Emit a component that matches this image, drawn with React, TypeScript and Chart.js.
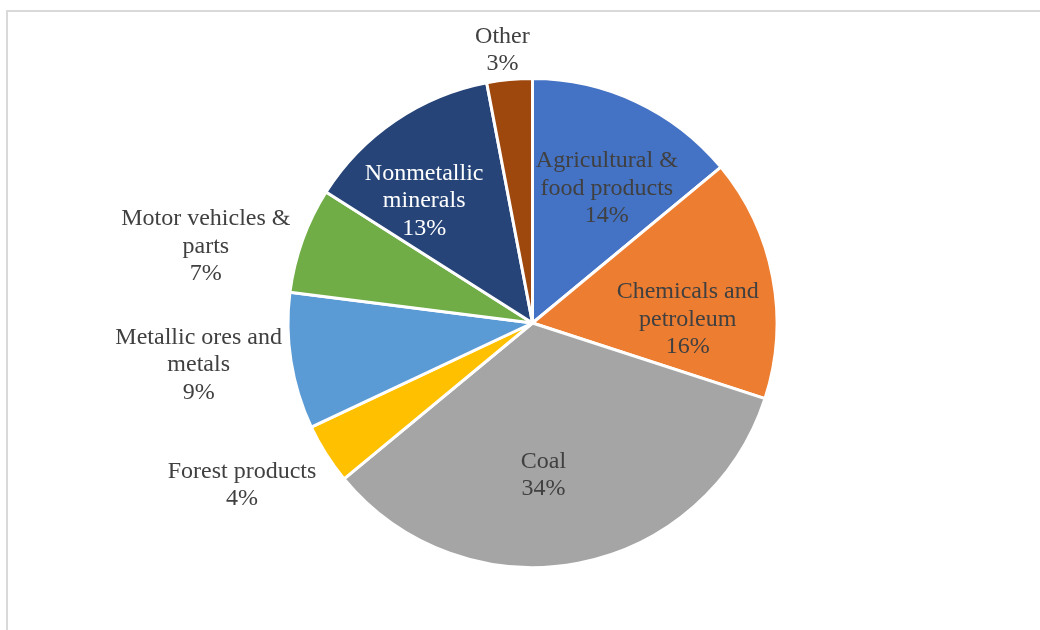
import React, { useEffect, useRef } from "react";
import { Chart, registerables } from "chart.js";

Chart.register(...registerables);

const categories = [
  "Agricultural & food products",
  "Chemicals and petroleum",
  "Coal",
  "Forest products",
  "Metallic ores and metals",
  "Motor vehicles & parts",
  "Nonmetallic minerals",
  "Other",
];
const labelLines = [
  ["Agricultural &", "food products"],
  ["Chemicals and", "petroleum"],
  ["Coal"],
  ["Forest products"],
  ["Metallic ores and", "metals"],
  ["Motor vehicles &", "parts"],
  ["Nonmetallic", "minerals"],
  ["Other"],
];
const shares = [14, 16, 34, 4, 9, 7, 13, 3];
const sliceColors = [
  "#4472C4",
  "#ED7D31",
  "#A5A5A5",
  "#FFC000",
  "#5B9BD5",
  "#70AD47",
  "#264478",
  "#9E480E",
];
const labelColors = [
  "#404040",
  "#404040",
  "#404040",
  "#404040",
  "#404040",
  "#404040",
  "#FFFFFF",
  "#404040",
];
// label placement (degrees clockwise from top, fraction of radius)
const labelAngles = [28.6, 88, 175.8, 241.1, 263.2, 283.5, 318.9, 353.75];
const labelRadii = [0.635, 0.635, 0.615, 1.357, 1.375, 1.374, 0.674, 1.13];

const FONT = '24px "Liberation Serif", "Times New Roman", serif';
const LINE_H = 27.5;
const TEXT_SHIFT = 2;

const labelPlugin = {
  id: "sliceLabels",
  afterDatasetsDraw(chart: any) {
    const meta = chart.getDatasetMeta(0);
    const ctx = chart.ctx;
    ctx.save();
    ctx.font = FONT;
    ctx.textAlign = "center";
    ctx.textBaseline = "middle";
    meta.data.forEach((arc: any, i: number) => {
      const { x, y, outerRadius } = arc.getProps(["x", "y", "outerRadius"], true);
      const a = (labelAngles[i] * Math.PI) / 180;
      const r = outerRadius * labelRadii[i];
      const px = x + r * Math.sin(a);
      const py = y - r * Math.cos(a) + TEXT_SHIFT;
      const lines = [...labelLines[i], shares[i] + "%"];
      const startY = py - ((lines.length - 1) / 2) * LINE_H;
      ctx.fillStyle = labelColors[i];
      lines.forEach((t, k) => ctx.fillText(t, px, startY + k * LINE_H));
    });
    ctx.restore();
  },
};

export default function App() {
  const ref = useRef<HTMLCanvasElement>(null);
  useEffect(() => {
    const chart = new Chart(ref.current as HTMLCanvasElement, {
      type: "pie",
      data: {
        labels: categories,
        datasets: [
          {
            data: shares,
            backgroundColor: sliceColors,
            borderColor: "#FFFFFF",
            borderWidth: 3,
          },
        ],
      },
      options: {
        responsive: false,
        animation: false,
        layout: { padding: { top: 77, bottom: 61, left: 286, right: 261 } },
        plugins: {
          legend: { display: false },
          tooltip: { enabled: false },
          title: { display: false },
        },
      },
      plugins: [labelPlugin],
    });
    return () => chart.destroy();
  }, []);
  return (
    <>
      <div
        style={{
          position: "fixed",
          left: 6,
          top: 10,
          width: 1032,
          height: 618,
          borderTop: "2px solid #D9D9D9",
          borderLeft: "2px solid #D9D9D9",
          background: "#FFFFFF",
        }}
      />
      <canvas
        ref={ref}
        width={1040}
        height={630}
        style={{ position: "fixed", left: 0, top: 0, width: 1040, height: 630 }}
      />
    </>
  );
}
